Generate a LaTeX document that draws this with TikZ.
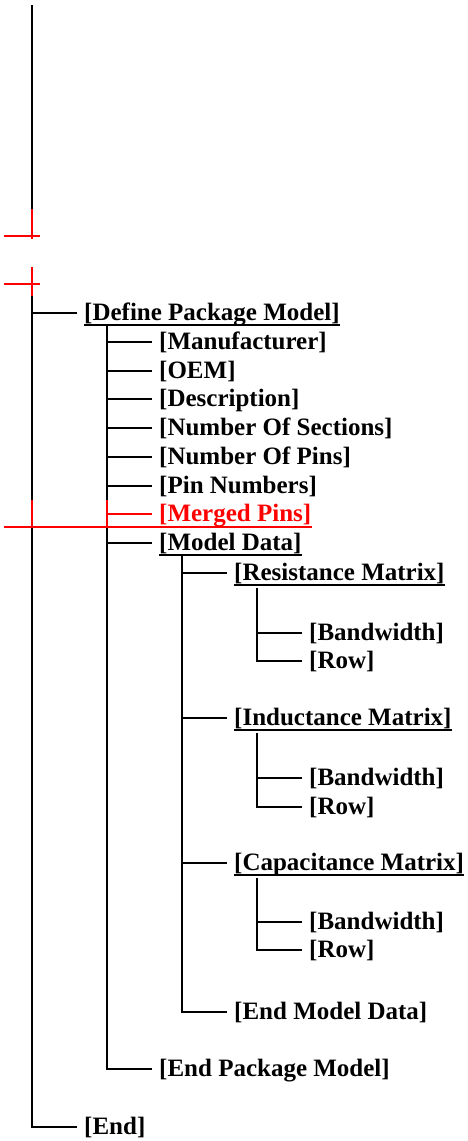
\documentclass[tikz,border=0pt]{standalone}
\usepackage{fontspec}
\setmainfont{Liberation Serif}
\begin{document}
\begin{tikzpicture}[x=1pt,y=-1pt,
  item/.style={anchor=base west, inner xsep=7pt, inner ysep=0pt, text height=17pt, text depth=3pt,
    font=\fontsize{25}{29}\selectfont\bfseries},
  conn/.style={line width=1.5pt, black},
  redline/.style={line width=1.7pt, red},
  uline/.style={line width=2.6pt}]
\useasboundingbox (0,0) rectangle (467,1141);
% level 1
\node[item] (dpm) at (77,320) {[Define Package Model]};
\node[item] (end) at (77,1134) {[End]};
% level 2
\node[item] (man) at (152,349) {[Manufacturer]};
\node[item] (oem) at (152,378) {[OEM]};
\node[item] (desc) at (152,406) {[Description]};
\node[item] (nos) at (152,435) {[Number Of Sections]};
\node[item] (nop) at (152,464) {[Number Of Pins]};
\node[item] (pinnum) at (152,493) {[Pin Numbers]};
\node[item, text=red] (merged) at (152,521) {[Merged Pins]};
\node[item] (md) at (152,550) {[Model Data]};
\node[item] (endpm) at (152,1076) {[End Package Model]};
% level 3
\node[item] (res) at (227,580) {[Resistance Matrix]};
\node[item] (ind) at (227,725) {[Inductance Matrix]};
\node[item] (cap) at (227,870) {[Capacitance Matrix]};
\node[item] (endmd) at (227,1019) {[End Model Data]};
% level 4
\node[item] (resbw) at (302,640) {[Bandwidth]};
\node[item] (resrow) at (302,668) {[Row]};
\node[item] (indbw) at (302,785) {[Bandwidth]};
\node[item] (indrow) at (302,814) {[Row]};
\node[item] (capbw) at (302,929) {[Bandwidth]};
\node[item] (caprow) at (302,957) {[Row]};
% underlines
\foreach \n in {dpm,md,res,ind,cap}
  \draw[uline] ([xshift=7pt,yshift=-5pt]\n.base west) -- ([xshift=-7pt,yshift=-5pt]\n.base east);
% vertical line tops
\coordinate (root) at (32,5);
\coordinate (rootA) at (32,209);
\coordinate (rootB) at (32,296);
\coordinate (dpmv) at (107,326);
\coordinate (mdv) at (182,555);
\coordinate (resv) at (257,588);
\coordinate (indv) at (257,733);
\coordinate (capv) at (257,878);
% connectors
\draw[conn] (root) -- (rootA);
\draw[conn] (rootB) |- (dpm.west);
\draw[conn] (rootB) |- (end.west);
\foreach \c in {man,oem,desc,nos,nop,pinnum,md,endpm}
  \draw[conn] (dpmv) |- (\c.west);
\foreach \c in {res,ind,cap,endmd}
  \draw[conn] (mdv) |- (\c.west);
\draw[conn] (resv) |- (resbw.west);
\draw[conn] (resv) |- (resrow.west);
\draw[conn] (indv) |- (indbw.west);
\draw[conn] (indv) |- (indrow.west);
\draw[conn] (capv) |- (capbw.west);
\draw[conn] (capv) |- (caprow.west);
% red marks
\draw[redline] (rootA) -- (32,239);
\draw[redline] (4,236) -- (40,236);
\draw[redline] (32,267) -- (rootB);
\draw[redline] (4,284) -- (40,284);
\draw[redline] (32,500) -- (32,528);
\draw[redline] (107,500) -- (107,528);
\draw[redline] (107,514) -- (merged.west);
\draw[redline] (4,527) -- ([xshift=-6pt,yshift=-6pt]merged.base east);
\end{tikzpicture}
\end{document}
